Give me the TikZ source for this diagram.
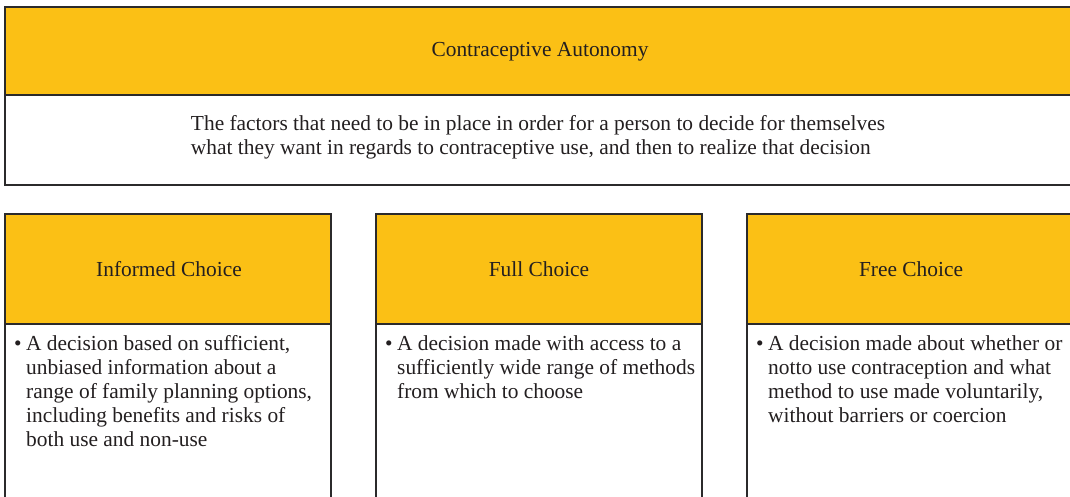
\documentclass[tikz,border=0pt]{standalone}
\usepackage{fontspec}
\setmainfont{Liberation Serif}
\definecolor{hdr}{HTML}{FBC015}
\definecolor{edge}{HTML}{2B2A2B}
\definecolor{txt}{HTML}{231F20}
\tikzset{
  hbox/.style={draw=edge, line width=2.4pt, fill=hdr},
  bbox/.style={draw=edge, line width=2.4pt, fill=white},
  ttl/.style={font=\fontsize{21.4}{24}\selectfont, text=txt, inner sep=0pt},
  body/.style={font=\fontsize{21.4}{24}\selectfont, text=txt, inner sep=0pt, align=left},
}
\newcommand{\blist}[1]{\begin{tabular}{@{}l@{\hspace{4.5pt}}l@{}}#1\end{tabular}}
\begin{document}
\begin{tikzpicture}[x=1pt,y=-1pt]
\useasboundingbox (0,0) rectangle (1070,497);
% top box
\draw[bbox] (5,95) rectangle (1090,185);
\draw[hbox] (5,7) rectangle (1090,95);
\node[ttl] (top) at (540,52) {Contraceptive Autonomy};
\node[body] (desc) at (538,137) {The factors that need to be in place in order for a person to decide for themselves\\what they want in regards to contraceptive use, and then to realize that decision};
% columns
\foreach \x/\n in {5/a,376/b,747/c}{
  \draw[bbox] (\x,324) rectangle ++(326,200);
  \draw[hbox] (\x,214) rectangle ++(326,110);
}
\node[ttl] (h1) at (169,269.5) {Informed Choice};
\node[ttl] (h2) at (539,269.5) {Full Choice};
\node[ttl] (h3) at (911,269.5) {Free Choice};
\node[body, anchor=north west] (t1) at (14,333) {\blist{\textbullet & A decision based on sufficient,\\ & unbiased information about a\\ & range of family planning options,\\ & including benefits and risks of\\ & both use and non-use}};
\node[body, anchor=north west] (t2) at (385,333) {\blist{\textbullet & A decision made with access to a\\ & sufficiently wide range of methods\\ & from which to choose}};
\node[body, anchor=north west] (t3) at (756,333) {\blist{\textbullet & A decision made about whether or\\ & notto use contraception and what\\ & method to use made voluntarily,\\ & without barriers or coercion}};
\end{tikzpicture}
\end{document}
